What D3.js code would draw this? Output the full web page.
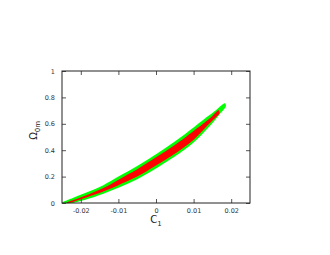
<!DOCTYPE html>
<html>
<head>
<meta charset="utf-8">
<script src="https://cdn.jsdelivr.net/npm/d3@7"></script>
<style>
  body { margin: 0; background: #fff; }
  svg { display: block; }
  .tick text { font-family: "DejaVu Sans", sans-serif; font-size: 6.5px; fill: #333; }
</style>
</head>
<body>
<svg id="chart"></svg>
<script>
// contour edges, (C1, Omega_0m)
const outerUpper = [[-0.0249, 0.004], [-0.022, 0.04], [-0.018, 0.085], [-0.014, 0.135], [-0.01, 0.2],
  [-0.005, 0.28], [0, 0.37], [0.005, 0.465], [0.01, 0.572], [0.013, 0.64], [0.016, 0.705],
  [0.0176, 0.745], [0.0183, 0.755]];
const outerLower = [[0.0186, 0.735], [0.017, 0.675], [0.014, 0.574], [0.01, 0.458], [0.005, 0.352],
  [0, 0.262], [-0.005, 0.18], [-0.01, 0.115], [-0.014, 0.07], [-0.018, 0.032], [-0.021, 0.008],
  [-0.0225, 0.0], [-0.0249, 0.0]];
const innerUpper = [[-0.0238, 0.002], [-0.022, 0.022], [-0.018, 0.065], [-0.014, 0.113], [-0.01, 0.177],
  [-0.005, 0.256], [0, 0.346], [0.005, 0.44], [0.01, 0.546], [0.013, 0.612], [0.015, 0.66],
  [0.0162, 0.695], [0.0167, 0.703]];
const innerLower = [[0.0169, 0.68], [0.016, 0.652], [0.014, 0.597], [0.01, 0.48], [0.005, 0.374],
  [0, 0.284], [-0.005, 0.2], [-0.01, 0.135], [-0.014, 0.088], [-0.018, 0.048], [-0.021, 0.018],
  [-0.0228, 0.002]];

const xTicks = [-0.02, -0.01, 0, 0.01, 0.02];
const yTicks = [0, 0.2, 0.4, 0.6, 0.8, 1];

const width = 330, height = 255;
const margin = { top: 71, right: 80, bottom: 52, left: 62 };
const w = width - margin.left - margin.right;
const h = height - margin.top - margin.bottom;

const svg = d3.select("#chart").attr("width", width).attr("height", height);
const g = svg.append("g").attr("transform", `translate(${margin.left},${margin.top})`);

const x = d3.scaleLinear().domain([-0.025, 0.025]).range([0, w]);
const y = d3.scaleLinear().domain([0, 1]).range([h, 0]);

const line = d3.line()
  .x(d => x(d[0]))
  .y(d => y(d[1]))
  .curve(d3.curveCatmullRomClosed.alpha(0.5));

g.append("path")
  .datum(outerUpper.concat(outerLower))
  .attr("d", line)
  .attr("fill", "#00ff00");

g.append("path")
  .datum(innerUpper.concat(innerLower))
  .attr("d", line)
  .attr("fill", "#ff0000");

// axes, gnuplot style: inward ticks mirrored on all sides
const fmt = d => d === 0 ? "0" : String(d);
g.append("g").attr("transform", `translate(0,${h})`)
  .call(d3.axisBottom(x).tickValues(xTicks).tickFormat(fmt).tickSizeInner(-4).tickSizeOuter(0).tickPadding(5))
  .call(a => a.select(".domain").remove());
g.append("g")
  .call(d3.axisTop(x).tickValues(xTicks).tickSizeInner(-4).tickSizeOuter(0).tickFormat(""))
  .call(a => a.select(".domain").remove());
g.append("g")
  .call(d3.axisLeft(y).tickValues(yTicks).tickFormat(fmt).tickSizeInner(-4).tickSizeOuter(0).tickPadding(7))
  .call(a => a.select(".domain").remove());
g.append("g").attr("transform", `translate(${w},0)`)
  .call(d3.axisRight(y).tickValues(yTicks).tickSizeInner(-4).tickSizeOuter(0).tickFormat(""))
  .call(a => a.select(".domain").remove());
g.selectAll(".tick line").attr("stroke", "#555");

g.append("rect")
  .attr("width", w).attr("height", h)
  .attr("fill", "none").attr("stroke", "#222").attr("stroke-width", 1);

// axis titles
const xt = svg.append("text")
  .attr("x", margin.left + x(0)).attr("y", 223)
  .attr("text-anchor", "middle")
  .style("font-family", "DejaVu Sans, sans-serif").style("font-size", "10px").attr("fill", "#222");
xt.append("tspan").text("C");
xt.append("tspan").attr("dy", 3).style("font-size", "7px").text("1");

const yt = svg.append("text")
  .attr("transform", `translate(37,${margin.top + y(0.55)}) rotate(-90)`)
  .attr("text-anchor", "middle")
  .style("font-family", "DejaVu Sans, sans-serif").style("font-size", "10px").attr("fill", "#222");
yt.append("tspan").text("Ω");
yt.append("tspan").attr("dy", 3).style("font-size", "7px").text("0m");
</script>
</body>
</html>
